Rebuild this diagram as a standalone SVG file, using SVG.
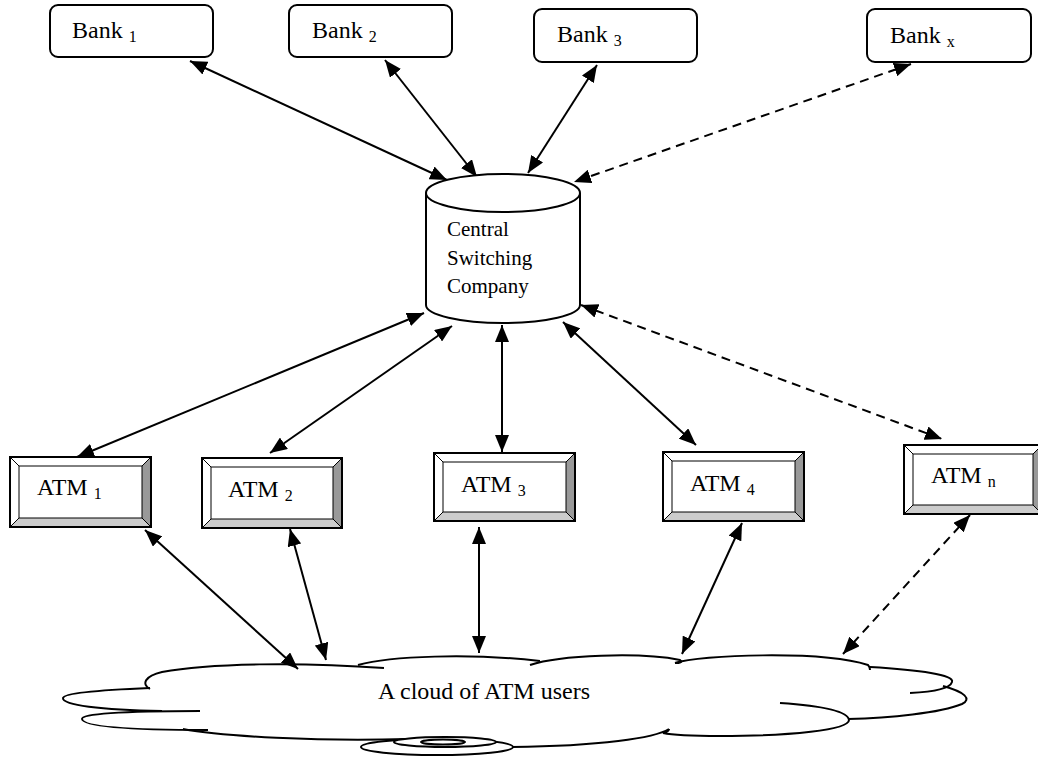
<svg xmlns="http://www.w3.org/2000/svg" width="1038" height="757" viewBox="0 0 1038 757">
<style>
.box{fill:#fff;stroke:#000;stroke-width:2}
.t{font-size:24px;fill:#000}
.tc{font-size:21px;fill:#000}
.sub{font-size:16px}
.ln{stroke:#000;stroke-width:2;fill:none;marker-start:url(#ah);marker-end:url(#ah)}
.dash{stroke-dasharray:9,6}
.bt{fill:#fff;stroke:#000;stroke-width:1}
.bl{fill:#fff;stroke:#000;stroke-width:1}
.br{fill:#999;stroke:#000;stroke-width:1}
.bb{fill:#ccc;stroke:#000;stroke-width:1}
.cl{fill:none;stroke:#000;stroke-width:2}
</style>
<defs>
<marker id="ah" markerUnits="userSpaceOnUse" markerWidth="18" markerHeight="14" refX="17" refY="7" orient="auto-start-reverse">
<path d="M0,0 L17,7 L0,14 z" fill="#000"/>
</marker>
</defs>
<rect width="1038" height="757" fill="#fff"/>

<g id="connectors">
<line class="ln" x1="190" y1="61" x2="447" y2="180"/>
<line class="ln" x1="385" y1="60" x2="477" y2="177"/>
<line class="ln" x1="597" y1="65" x2="528" y2="173"/>
<line class="ln dash" x1="911" y1="64" x2="574" y2="182"/>
<line class="ln" x1="424" y1="313" x2="77" y2="457"/>
<line class="ln" x1="452" y1="326" x2="270" y2="453"/>
<line class="ln" x1="502" y1="325" x2="502" y2="452"/>
<line class="ln" x1="563" y1="322" x2="696" y2="445"/>
<line class="ln dash" x1="581" y1="305" x2="942" y2="439"/>
<line class="ln" x1="145" y1="530" x2="298" y2="669"/>
<line class="ln" x1="290" y1="529" x2="326" y2="660"/>
<line class="ln" x1="479" y1="527" x2="479" y2="653"/>
<line class="ln" x1="742" y1="523" x2="682" y2="654"/>
<line class="ln dash" x1="970" y1="515" x2="843" y2="654"/>
</g>

<g id="bank1"><rect class="box" x="50" y="5" width="163" height="52" rx="8"/><text class="t" font-family="'Liberation Serif', 'Times New Roman', serif" x="72" y="38">Bank <tspan class="sub" dy="4">1</tspan></text></g>
<g id="bank2"><rect class="box" x="289" y="5" width="163" height="52" rx="8"/><text class="t" font-family="'Liberation Serif', 'Times New Roman', serif" x="312" y="38">Bank <tspan class="sub" dy="4">2</tspan></text></g>
<g id="bank3"><rect class="box" x="534" y="9" width="163" height="53" rx="8"/><text class="t" font-family="'Liberation Serif', 'Times New Roman', serif" x="557" y="42">Bank <tspan class="sub" dy="4">3</tspan></text></g>
<g id="bankx"><rect class="box" x="867" y="9" width="164" height="53" rx="8"/><text class="t" font-family="'Liberation Serif', 'Times New Roman', serif" x="890" y="43">Bank <tspan class="sub" dy="4">x</tspan></text></g>

<g id="central">
<path class="box" d="M426,193 L426,305 A77,18 0 0 0 580,305 L580,193"/>
<ellipse class="box" cx="503" cy="193" rx="77" ry="19"/>
<text class="tc" font-family="'Liberation Serif', 'Times New Roman', serif" x="447" y="236">Central</text>
<text class="tc" font-family="'Liberation Serif', 'Times New Roman', serif" x="447" y="265">Switching</text>
<text class="tc" font-family="'Liberation Serif', 'Times New Roman', serif" x="447" y="293">Company</text>
</g>

<g id="atm1">
<polygon class="bt" points="10,457 151,457 142,466 19,466"/>
<polygon class="bl" points="10,457 19,466 19,518 10,527"/>
<polygon class="br" points="151,457 151,527 142,518 142,466"/>
<polygon class="bb" points="10,527 151,527 142,518 19,518"/>
<rect x="10" y="457" width="141" height="70" fill="none" stroke="#000" stroke-width="2"/>
<text class="t" font-family="'Liberation Serif', 'Times New Roman', serif" x="37" y="495">ATM <tspan class="sub" dy="4">1</tspan></text>
</g>
<g id="atm2">
<polygon class="bt" points="202,458 342,458 333,467 211,467"/>
<polygon class="bl" points="202,458 211,467 211,519 202,528"/>
<polygon class="br" points="342,458 342,528 333,519 333,467"/>
<polygon class="bb" points="202,528 342,528 333,519 211,519"/>
<rect x="202" y="458" width="140" height="70" fill="none" stroke="#000" stroke-width="2"/>
<text class="t" font-family="'Liberation Serif', 'Times New Roman', serif" x="228" y="497">ATM <tspan class="sub" dy="4">2</tspan></text>
</g>
<g id="atm3">
<polygon class="bt" points="434,453 575,453 566,462 443,462"/>
<polygon class="bl" points="434,453 443,462 443,512 434,521"/>
<polygon class="br" points="575,453 575,521 566,512 566,462"/>
<polygon class="bb" points="434,521 575,521 566,512 443,512"/>
<rect x="434" y="453" width="141" height="68" fill="none" stroke="#000" stroke-width="2"/>
<text class="t" font-family="'Liberation Serif', 'Times New Roman', serif" x="461" y="492">ATM <tspan class="sub" dy="4">3</tspan></text>
</g>
<g id="atm4">
<polygon class="bt" points="663,452 804,452 795,461 672,461"/>
<polygon class="bl" points="663,452 672,461 672,512 663,521"/>
<polygon class="br" points="804,452 804,521 795,512 795,461"/>
<polygon class="bb" points="663,521 804,521 795,512 672,512"/>
<rect x="663" y="452" width="141" height="69" fill="none" stroke="#000" stroke-width="2"/>
<text class="t" font-family="'Liberation Serif', 'Times New Roman', serif" x="690" y="491">ATM <tspan class="sub" dy="4">4</tspan></text>
</g>
<g id="atmn">
<polygon class="bt" points="904,445 1042,445 1033,454 913,454"/>
<polygon class="bl" points="904,445 913,454 913,505 904,514"/>
<polygon class="br" points="1042,445 1042,514 1033,505 1033,454"/>
<polygon class="bb" points="904,514 1042,514 1033,505 913,505"/>
<rect x="904" y="445" width="138" height="69" fill="none" stroke="#000" stroke-width="2"/>
<text class="t" font-family="'Liberation Serif', 'Times New Roman', serif" x="931" y="483">ATM <tspan class="sub" dy="4">n</tspan></text>
</g>

<g id="cloud">
<path class="cl" d="M150,689 C141,684 145,676 162,672 C210,663 300,662 384,668"/>
<path class="cl" d="M358,665 C390,656 470,653 540,661"/>
<path class="cl" d="M530,665 C560,655 640,652 680,660 C683,662 680,663 675,663"/>
<path class="cl" d="M675,663 C700,655 820,650 868,665 C870,667 870,669 870,670"/>
<path class="cl" d="M870,667 C920,670 955,675 952,682 C950,689 930,692 910,693"/>
<path class="cl" d="M943,686 C965,692 972,699 962,704 C940,713 890,718 848,719"/>
<path class="cl" d="M780,703 C825,706 848,712 849,720 C849,730 790,736 720,736 C690,736 672,735 663,733 C667,732 669,730 669,729"/>
<path class="cl" d="M669,729 C655,738 600,746 512,747"/>
<path class="cl" d="M150,688 C100,690 64,693 63,698 C62,705 100,710 162,711"/>
<path class="cl" d="M200,711 C120,711 81,714 82,719 C83,727 130,730 208,730"/>
<path class="cl" d="M183,729 C220,736 320,742 407,739"/>
<ellipse class="cl" cx="437" cy="747" rx="76" ry="8"/>
<ellipse cx="445" cy="742" rx="51" ry="5" fill="#fff" stroke="#000" stroke-width="2"/>
<ellipse cx="443" cy="742" rx="22" ry="2.5" fill="none" stroke="#000" stroke-width="2"/>
<text class="t" font-family="'Liberation Serif', 'Times New Roman', serif" x="378" y="699">A cloud of ATM users</text>
</g>
</svg>
